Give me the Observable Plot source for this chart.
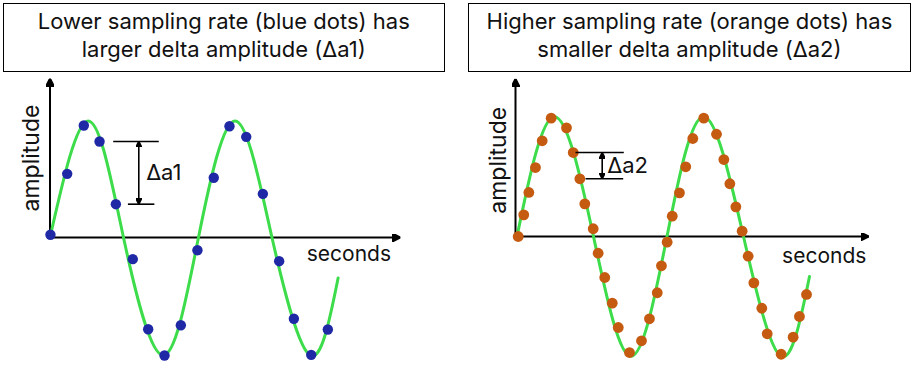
<!DOCTYPE html>
<html><head><meta charset="utf-8">
<script src="https://cdn.jsdelivr.net/npm/d3@7"></script>
<script src="https://cdn.jsdelivr.net/npm/@observablehq/plot@0.6"></script>
<style>
body{margin:0;background:#fff;font-family:Inter, "Noto Sans", sans-serif;}
#wrap{position:relative;width:916px;height:365px;overflow:hidden;background:#fff;}
.box{position:absolute;top:3px;height:69px;box-sizing:border-box;border:1.6px solid #000;text-align:center;font-size:22px;line-height:27.6px;color:#111;padding-top:4px;white-space:pre-line;}
.panel{position:absolute;top:72px;}
</style></head><body><div id="wrap"></div>
<script>
// ---- data ----
const titles = [
  "Lower sampling rate (blue dots) has\nlarger delta amplitude (Δa1)",
  "Higher sampling rate (orange dots) has\nsmaller delta amplitude (Δa2)"
];
const xLabel = "seconds";
const yLabel = "amplitude";

// left panel: low sampling rate (time in periods, amplitude -1..1)
const lowT = [0.003,0.117,0.230,0.337,0.448,0.563,0.668,0.779,0.890,1.003,1.114,1.221,1.335,1.448,1.559,1.659,1.777,1.890];
const lowA = [0.023,0.535,0.941,0.807,0.280,-0.182,-0.771,-0.992,-0.737,-0.107,0.502,0.935,0.846,0.367,-0.199,-0.683,-0.986,-0.773];
const waveLowT = [0, 0.26, 0.50, 0.77, 1.01, 1.26, 1.51, 1.77, 1.96];
const waveLowA = [0, 0.98, 0, -0.99, 0, 0.98, 0, -0.99, -0.34];

// right panel: high sampling rate
const highT = [0.018,0.055,0.089,0.133,0.178,0.238,0.340,0.385,0.429,0.462,0.518,0.551,0.595,0.645,0.685,0.760,0.840,0.893,0.945,0.973,1.011,1.045,1.093,1.135,1.182,1.255,1.340,1.389,1.429,1.469,1.511,1.551,1.589,1.642,1.678,1.771,1.851,1.893,1.940];
const highA = [0.0,0.179,0.364,0.570,0.791,0.978,0.898,0.694,0.477,0.270,0.064,-0.138,-0.339,-0.551,-0.752,-0.959,-0.862,-0.680,-0.465,-0.242,-0.047,0.168,0.361,0.576,0.810,0.978,0.845,0.636,0.436,0.245,0.044,-0.163,-0.383,-0.593,-0.804,-0.973,-0.832,-0.661,-0.479];
const waveHighT = [0.01, 0.26, 0.52, 0.77, 1.01, 1.255, 1.52, 1.77, 1.96];
const waveHighA = [0, 0.99, 0, -0.99, 0, 0.99, 0, -0.99, -0.33];

// delta annotations: which two consecutive samples, and extents in time units
const deltaLabels = ["Δa1", "Δa2"];
const deltaSample = [3, 7];            // index of upper sample
const deltaTopX = [[0.43, 0.74], [0.40, 0.722]];
const deltaBotX = [[0.53, 0.71], [0.467, 0.718]];
const deltaArrowX = [0.604, 0.578];
const deltaTextX = [0.654, 0.611];
// axis extents (time, amplitude)
const axisEndT = [2.384, 2.355];
const axisEndA = [1.336, 1.303];
const xLabelPos = [[2.033, -0.199], [2.058, -0.217]];
const yLabelPos = [[-0.125, 0.668], [-0.115, 0.63]];

// ---- drawing ----
const wrap = document.getElementById("wrap");
const boxes = [{left: 3, width: 441.5}, {left: 467.7, width: 443.5}];
titles.forEach((t, i) => {
  const d = document.createElement("div");
  d.className = "box";
  d.style.left = boxes[i].left + "px";
  d.style.width = boxes[i].width + "px";
  d.textContent = t;
  wrap.appendChild(d);
});

function triMarker(len, wid) {
  return (color) => {
    const m = d3.create("svg:marker")
      .attr("viewBox", `${-len} ${-wid/2} ${len} ${wid}`)
      .attr("markerWidth", len).attr("markerHeight", wid)
      .attr("markerUnits", "userSpaceOnUse")
      .attr("refX", 0).attr("refY", 0)
      .attr("orient", "auto-start-reverse");
    m.append("path").attr("d", `M${-len},${-wid/2}L0,0L${-len},${wid/2}Z`).attr("fill", color);
    return m.node();
  };
}

const green = "#3ddc4b";
const font = "Inter, 'Noto Sans', sans-serif";

function makePanel(i, T, A, wT, wA, dotColor, dotR, xRange, yRange) {
  const dots = T.map((t, k) => ({t, a: A[k]}));
  const wave = wT.map((t, k) => ({t, a: wA[k]}));
  const k = deltaSample[i];
  const aTop = A[k], aBot = A[k + 1];
  const mid = (aTop + aBot) / 2;
  const hLines = [
    {x1: deltaTopX[i][0], x2: deltaTopX[i][1], y: aTop},
    {x1: deltaBotX[i][0], x2: deltaBotX[i][1], y: aBot}
  ];
  return Plot.plot({
    width: 458, height: 293,
    x: {domain: [0, 2.4], range: xRange, axis: null},
    y: {domain: [-1, 1], range: yRange, axis: null},
    style: {background: "transparent", overflow: "visible", fontFamily: font},
    marks: [
      Plot.link([{x1: 0, y1: 0, x2: axisEndT[i], y2: 0}], {x1: "x1", y1: "y1", x2: "x2", y2: "y2", stroke: "#000", strokeWidth: 2, markerEnd: triMarker(8, 8)}),
      Plot.link([{x1: 0, y1: 0, x2: 0, y2: axisEndA[i]}], {x1: "x1", y1: "y1", x2: "x2", y2: "y2", stroke: "#000", strokeWidth: 2, markerEnd: triMarker(8, 8)}),
      Plot.line(wave, {x: "t", y: "a", curve: "natural", stroke: green, strokeWidth: 3}),
      Plot.dot(dots, {x: "t", y: "a", r: dotR, fill: dotColor}),
      Plot.link(hLines, {x1: "x1", x2: "x2", y1: "y", y2: "y", stroke: "#000", strokeWidth: 1.6}),
      Plot.link([{x: deltaArrowX[i], y1: aTop, y2: aBot}], {x1: "x", x2: "x", y1: "y1", y2: "y2", stroke: "#000", strokeWidth: 1.6, markerStart: triMarker(6, 6), markerEnd: triMarker(6, 6)}),
      Plot.text([deltaLabels[i]], {x: deltaTextX[i], y: mid, text: d => d, textAnchor: "start", lineAnchor: "middle", fontSize: 22, fill: "#111"}),
      Plot.text([xLabel], {x: xLabelPos[i][0], y: xLabelPos[i][1], text: d => d, textAnchor: "middle", lineAnchor: "bottom", fontSize: 21, fill: "#111"}),
      Plot.text([yLabel], {x: yLabelPos[i][0], y: yLabelPos[i][1], text: d => d, textAnchor: "middle", lineAnchor: "middle", rotate: -90, fontSize: 23, fill: "#111"})
    ]
  });
}

const p1 = makePanel(0, lowT, lowA, waveLowT, waveLowA, "#1f29a6", 5.2, [49.5, 49.5 + 2.4 * 147], [356 - 72, 118 - 72]);
const p2 = makePanel(1, highT, highA, waveHighT, waveHighA, "#c55a11", 5.4, [57, 57 + 2.4 * 150], [357 - 72, 115 - 72]);
[p1, p2].forEach((p, i) => {
  const d = document.createElement("div");
  d.className = "panel";
  d.style.left = (i * 458) + "px";
  d.appendChild(p);
  wrap.appendChild(d);
});
</script>
</body></html>
